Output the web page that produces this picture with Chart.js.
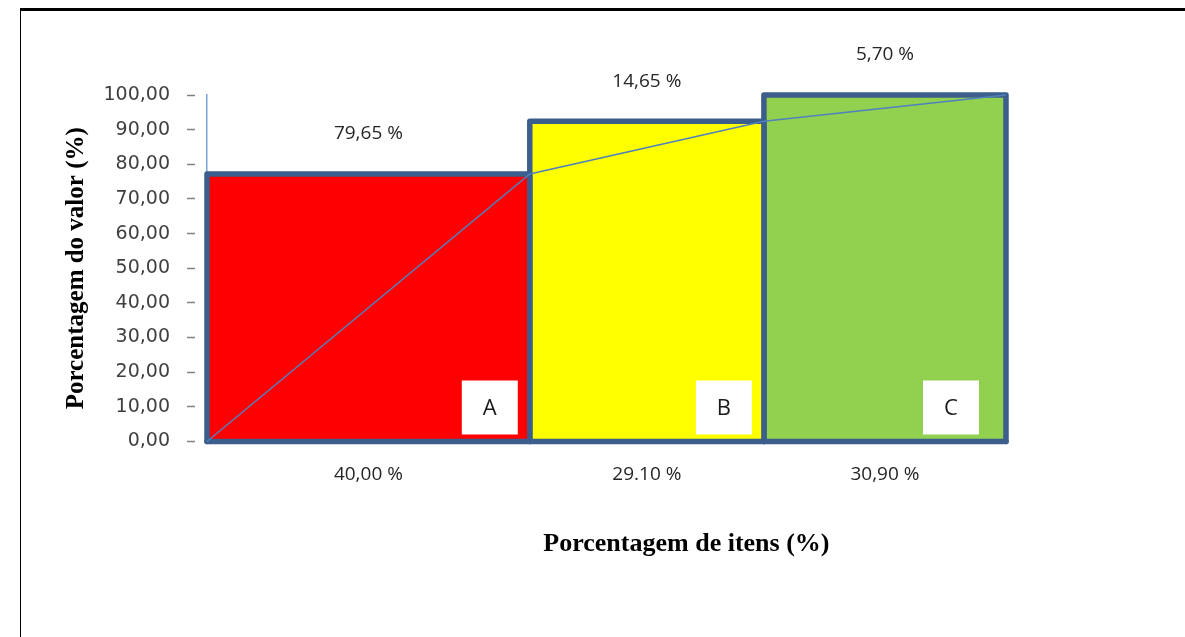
<!DOCTYPE html>
<html>
<head>
<meta charset="utf-8">
<title>Curva ABC</title>
<script src="https://cdn.jsdelivr.net/npm/chart.js@4.4.0/dist/chart.umd.min.js"></script>
<style>
  html, body { margin: 0; padding: 0; background: #fff; }
  #wrap { position: relative; width: 1185px; height: 637px; overflow: hidden; }
  #wrap canvas { position: absolute; left: 0; top: 0; }
  #frame {
    position: absolute; left: 20px; top: 8px; right: -10px; bottom: -10px;
    border-top: 3px solid #000; border-left: 1.5px solid #000;
    pointer-events: none;
  }
</style>
</head>
<body>
<div id="wrap">
  <canvas id="abcChart" width="1185" height="637"></canvas>
  <div id="frame"></div>
</div>
<script>
// classes of the ABC curve
const classes = ["A", "B", "C"];
// share of items in each class (x widths, %)
const itemShare = [40.4, 29.3, 30.3];
// cumulative share of value reached at the end of each class (%)
const cumValue = [77.2, 92.4, 100];
const valueLabels = ["79,65 %", "14,65 %", "5,70 %"];
const itemLabels = ["40,00 %", "29.10 %", "30,90 %"];
const yTicks = [0, 10, 20, 30, 40, 50, 60, 70, 80, 90, 100];

const fillColors = ["#FF0000", "#FFFF00", "#92D050"];
const edgeColor = "#3B5E8C";
// how far the white letter box sits from the right side of its block (px)
const boxInset = [12, 12, 27];

const edges = [0];
itemShare.forEach((w, i) => edges.push(edges[i] + w));
const centers = classes.map((c, i) => (edges[i] + edges[i + 1]) / 2);

const blockSets = classes.map((c, i) => ({
  label: c,
  data: [
    { x: edges[i], y: 0 },
    { x: edges[i], y: cumValue[i] },
    { x: edges[i + 1], y: cumValue[i] },
    { x: edges[i + 1], y: 0 },
  ],
  backgroundColor: fillColors[i],
  borderColor: edgeColor,
  borderWidth: 5.5,
  borderJoinStyle: "round",
  borderCapStyle: "round",
  fill: "origin",
  order: 2,
}));

const baseSet = {
  label: "base",
  data: [{ x: edges[0], y: 0 }, { x: edges[edges.length - 1], y: 0 }],
  borderColor: edgeColor,
  borderWidth: 5.5,
  borderCapStyle: "round",
  fill: false,
  order: 1,
};

const curveSet = {
  label: "curva",
  data: [{ x: 0, y: 0 }].concat(cumValue.map((v, i) => ({ x: edges[i + 1], y: v }))),
  borderColor: "#4F81BD",
  borderWidth: 1.5,
  fill: false,
  order: 0,
};

const abcLabels = {
  id: "abcLabels",
  afterDatasetsDraw(chart) {
    const { ctx, scales: { x, y } } = chart;
    ctx.save();
    ctx.textAlign = "center";
    ctx.textBaseline = "middle";
    classes.forEach((c, i) => {
      const cx = x.getPixelForValue(centers[i]);
      ctx.font = '19px "Open Sans"';
      ctx.fillStyle = "#262626";
      ctx.fillText(valueLabels[i], cx, y.getPixelForValue(cumValue[i]) - 40);

      const right = x.getPixelForValue(edges[i + 1]) - boxInset[i];
      const bottom = y.getPixelForValue(0) - 7;
      ctx.fillStyle = "#fff";
      ctx.fillRect(right - 56, bottom - 54, 56, 54);
      ctx.font = '22px "Open Sans"';
      ctx.fillStyle = "#1a1a1a";
      ctx.fillText(c, right - 28, bottom - 26);
    });
    ctx.font = 'bold 26px "Liberation Serif"';
    ctx.fillStyle = "#000";
    ctx.fillText("Porcentagem de itens (%)", x.left + 0.6 * x.width, y.bottom + 103);
    ctx.restore();
  },
};

new Chart(document.getElementById("abcChart"), {
  type: "line",
  data: { datasets: [curveSet, baseSet].concat(blockSets) },
  options: {
    responsive: false,
    animation: false,
    devicePixelRatio: 1,
    clip: false,
    elements: { point: { radius: 0, hoverRadius: 0 }, line: { tension: 0 } },
    layout: { padding: { top: 95, right: 179, bottom: 0, left: 0 } },
    plugins: { legend: { display: false }, tooltip: { enabled: false } },
    scales: {
      x: {
        type: "linear",
        min: 0,
        max: 100,
        grid: { display: false, drawTicks: false },
        border: { display: false },
        afterBuildTicks: (s) => { s.ticks = centers.map((v) => ({ value: v })); },
        afterFit: (s) => { s.height = 195.5; },
        ticks: {
          autoSkip: false,
          maxRotation: 0,
          padding: 22,
          color: "#262626",
          font: { family: "Open Sans", size: 19 },
          callback: (v, i) => itemLabels[i],
        },
      },
      y: {
        type: "linear",
        min: 0,
        max: 100,
        afterBuildTicks: (s) => { s.ticks = yTicks.map((v) => ({ value: v })); },
        afterFit: (s) => { s.width = 207; },
        grid: {
          drawOnChartArea: false,
          tickLength: 20,
          tickBorderDash: [8, 40],
          tickColor: "#808080",
          tickWidth: 1.5,
        },
        border: { color: "#7BA3D6", width: 1.5 },
        ticks: {
          padding: 17,
          color: "#404040",
          font: { family: "DejaVu Sans", size: 19 },
          callback: (v) => v.toFixed(2).replace(".", ","),
        },
        title: {
          display: true,
          text: "Porcentagem do valor (%)",
          color: "#000",
          font: { family: "Liberation Serif", size: 25, weight: "bold" },
          padding: { top: 62, bottom: 0 },
        },
      },
    },
  },
  plugins: [abcLabels],
});
</script>
</body>
</html>
